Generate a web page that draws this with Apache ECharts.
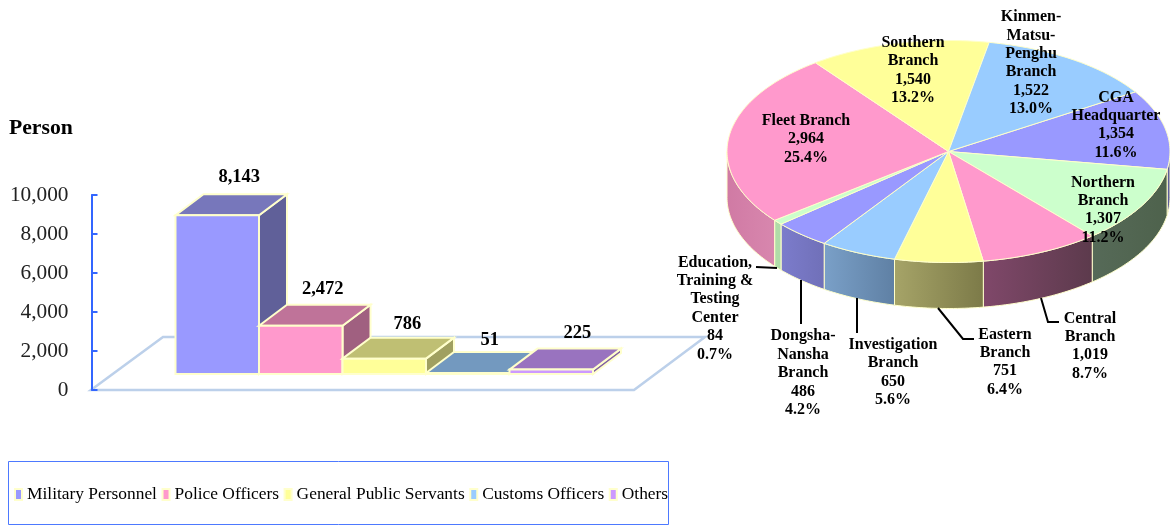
<!DOCTYPE html>
<html>
<head>
<meta charset="utf-8">
<style>
  html, body { margin: 0; padding: 0; background: #fff; }
  #chart { width: 1170px; height: 525px; }
</style>
<script src="https://cdn.jsdelivr.net/npm/echarts@6/dist/echarts.min.js"></script>
</head>
<body>
<div id="chart"></div>
<script>
const personnelNames = ['Military Personnel', 'Police Officers', 'General Public Servants', 'Customs Officers', 'Others']
const personnelValues = [8143, 2472, 786, 51, 225]
const yTicks = [0, 10000, 2000]

const branchNames = [
  'CGA\nHeadquarter', 'Northern\nBranch', 'Central\nBranch', 'Eastern\nBranch', 'Investigation\nBranch',
  'Dongsha-\nNansha\nBranch', 'Education,\nTraining &\nTesting\nCenter', 'Fleet Branch', 'Southern\nBranch',
  'Kinmen-\nMatsu-\nPenghu\nBranch'
]
const branchValues = [1354, 1307, 1019, 751, 650, 486, 84, 2964, 1540, 1522]

// styles and label layout
const FONT = '"Liberation Serif", "Times New Roman", serif'
const EDGE = '#ffffcc'
const barColors = [
  { front: '#9999ff', top: '#7777bb', side: '#606099' },
  { front: '#ff99cc', top: '#bf7399', side: '#a06080' },
  { front: '#ffff99', top: '#bfbf73', side: '#a0a060' },
  { front: '#99ccff', top: '#7399bf', side: '#6080a0' },
  { front: '#cc99ff', top: '#9973bf', side: '#8060a0' }
]
const barLabelNudge = [[0, -1], [0, 0], [1, 3], [0, 4], [4, 1]]
const sliceColors = ['#9999ff', '#ccffcc', '#ff99cc', '#ffff99', '#99ccff', '#9999ff', '#ccffcc', '#ff99cc', '#ffff99', '#99ccff']
const wallColors = [
  ['#60609f', '#5c5c99'], ['#566a58', '#4e624c'], ['#80486a', '#5c3a4c'], ['#a6a468', '#7c7a48'], ['#7aa0c8', '#5f80a4'],
  ['#7c7ccc', '#7070b8'], ['#b0dca8', '#b0dca8'], ['#d07aa4', '#d887ae'], ['#999966', '#999966'], ['#6080a0', '#6080a0']
]
const labelCenters = [
  [1116, 125], [1103, 210], [1090, 346], [1005, 362], [893, 372.5],
  [803, 373], [715, 308.5], [806, 139], [913, 70.5], [1031, 63]
]
const leaderLines = [
  null, null,
  [[1041, 298], [1048, 322], [1059, 322]],
  [[938, 308], [963, 339], [974, 339]],
  [[857, 298], [857, 333]],
  [[801, 280], [801, 324]],
  [[756, 267], [777, 268]],
  null, null, null
]
const START_ANGLE = 32.5
const PIE_DEPTH = 46
const BAR_DX = 28
const BAR_DY = -21

const total = branchValues.reduce((a, b) => a + b, 0)
const fmt = v => v.toLocaleString('en-US')

function sliceAngles(i) {
  const before = branchValues.slice(0, i).reduce((a, b) => a + b, 0)
  return [
    START_ANGLE - before / total * 360,
    START_ANGLE - (before + branchValues[i]) / total * 360
  ]
}

function arc(api, from, to, dy) {
  const n = Math.max(2, Math.ceil(Math.abs(to - from)))
  const pts = []
  for (let k = 0; k <= n; k++) {
    const a = (from + (to - from) * k / n) * Math.PI / 180
    const p = api.coord([Math.cos(a), Math.sin(a)])
    pts.push([p[0], p[1] + dy])
  }
  return pts
}

function renderWall(params, api) {
  const i = params.dataIndex
  const [s, e] = sliceAngles(i)
  const a0 = Math.min(s, 0)
  const a1 = Math.max(e, -180)
  if (a0 <= a1) return null
  const points = arc(api, a0, a1, 0).concat(arc(api, a1, a0, PIE_DEPTH))
  return {
    type: 'polygon',
    shape: { points },
    style: {
      fill: new echarts.graphic.LinearGradient(0, 0, 1, 0, [
        { offset: 0, color: wallColors[i][0] },
        { offset: 1, color: wallColors[i][1] }
      ]),
      stroke: EDGE,
      lineWidth: 1
    }
  }
}

function renderSlice(params, api) {
  const i = params.dataIndex
  const [s, e] = sliceAngles(i)
  return {
    type: 'polygon',
    shape: { points: [api.coord([0, 0])].concat(arc(api, s, e, 0)) },
    style: { fill: sliceColors[i], stroke: EDGE, lineWidth: 1 }
  }
}

function renderSliceLabel(params, api) {
  const i = params.dataIndex
  const children = [{
    type: 'text',
    x: labelCenters[i][0],
    y: labelCenters[i][1],
    style: {
      text: branchNames[i] + '\n' + fmt(branchValues[i]) + '\n' + (branchValues[i] / total * 100).toFixed(1) + '%',
      font: 'bold 16px ' + FONT,
      lineHeight: 18.4,
      fill: '#000',
      align: 'center',
      verticalAlign: 'middle'
    }
  }]
  if (leaderLines[i]) {
    children.push({
      type: 'polyline',
      shape: { points: leaderLines[i] },
      style: { stroke: '#000', lineWidth: 2, fill: null }
    })
  }
  return { type: 'group', children }
}

function renderBar(params, api) {
  const i = api.value(0)
  const v = api.value(1)
  const c = barColors[i]
  const w = api.size([1, 0])[0]
  const cx = api.coord([i, 0])[0]
  const l = cx - w / 2
  const r = cx + w / 2
  const y0 = api.coord([i, 0])[1]
  const y1 = api.coord([i, v])[1]
  const edge = { stroke: EDGE, lineWidth: 2 }
  return {
    type: 'group',
    children: [
      { type: 'polygon', shape: { points: [[r, y1], [r + BAR_DX, y1 + BAR_DY], [r + BAR_DX, y0 + BAR_DY], [r, y0]] }, style: { fill: c.side, ...edge } },
      { type: 'polygon', shape: { points: [[l, y1], [l + BAR_DX, y1 + BAR_DY], [r + BAR_DX, y1 + BAR_DY], [r, y1]] }, style: { fill: c.top, ...edge } },
      { type: 'rect', shape: { x: l, y: y1, width: w, height: y0 - y1 }, style: { fill: c.front, ...edge } },
      {
        type: 'text',
        x: cx + BAR_DX / 2 + 8 + barLabelNudge[i][0],
        y: y1 + BAR_DY - 16 + barLabelNudge[i][1],
        style: { text: fmt(v), font: 'bold 18.5px ' + FONT, fill: '#000', align: 'center', verticalAlign: 'middle' }
      }
    ]
  }
}

const pieCoord = { coordinateSystem: 'cartesian2d', xAxisIndex: 2, yAxisIndex: 2 }
const pieData = branchValues.map((v, i) => ({ name: branchNames[i], value: [v] }))

const chart = echarts.init(document.getElementById('chart'))
chart.setOption({
  animation: false,
  backgroundColor: '#fff',
  title: {
    text: 'Person',
    left: 9,
    top: 117,
    padding: 0,
    textStyle: { fontFamily: FONT, fontWeight: 'bold', fontSize: 21.7, color: '#000' }
  },
  legend: {
    data: personnelNames,
    left: 14,
    top: 486,
    padding: 0,
    itemWidth: 7,
    itemHeight: 11,
    itemGap: 4.6,
    icon: 'rect',
    itemStyle: { borderColor: EDGE, borderWidth: 2 },
    textStyle: { fontFamily: FONT, fontSize: 17.4, color: '#000' }
  },
  grid: [
    { left: 91.5, top: 195, width: 543, height: 195 },
    { left: 175.5, top: 179, width: 417.5, height: 195 },
    { left: 727, top: 40.5, width: 445, height: 222 }
  ],
  xAxis: [
    { gridIndex: 0, type: 'category', data: personnelNames, show: false },
    { gridIndex: 1, type: 'category', data: personnelNames, show: false },
    { gridIndex: 2, type: 'value', min: -1, max: 1, show: false }
  ],
  yAxis: [
    {
      gridIndex: 0,
      type: 'value',
      min: yTicks[0],
      max: yTicks[1],
      interval: yTicks[2],
      axisLine: { show: true, lineStyle: { color: '#3366ff', width: 2 } },
      axisTick: { show: true, inside: true, length: 6, lineStyle: { color: '#3366ff', width: 2 } },
      splitLine: { show: false },
      axisLabel: {
        margin: 23,
        fontFamily: FONT,
        fontSize: 21.3,
        color: '#222',
        formatter: v => fmt(v)
      }
    },
    { gridIndex: 1, type: 'value', min: yTicks[0], max: yTicks[1], show: false },
    { gridIndex: 2, type: 'value', min: -1, max: 1, show: false }
  ],
  graphic: [
    {
      type: 'polygon',
      z: 0,
      shape: { points: [[91, 390], [634, 390], [705, 337], [163, 337]] },
      style: { fill: 'transparent', stroke: '#bcd0ea', lineWidth: 2.5 }
    },
    {
      type: 'rect',
      z: 0,
      shape: { x: 8.5, y: 461.5, width: 660, height: 63 },
      style: { fill: 'transparent', stroke: '#4d79ff', lineWidth: 1 }
    }
  ],
  series: personnelNames.map((name, i) => ({
    type: 'custom',
    name,
    coordinateSystem: 'cartesian2d',
    xAxisIndex: 1,
    yAxisIndex: 1,
    z: 3,
    itemStyle: { color: barColors[i].front },
    encode: { x: 0, y: 1 },
    data: [[i, personnelValues[i]]],
    renderItem: renderBar
  })).concat([
    { type: 'custom', name: 'wall', ...pieCoord, z: 3, clip: false, data: pieData, renderItem: renderWall },
    { type: 'custom', name: 'slice', ...pieCoord, z: 4, clip: false, data: pieData, renderItem: renderSlice },
    { type: 'custom', name: 'label', ...pieCoord, z: 5, clip: false, data: pieData, renderItem: renderSliceLabel }
  ])
})
</script>
</body>
</html>
